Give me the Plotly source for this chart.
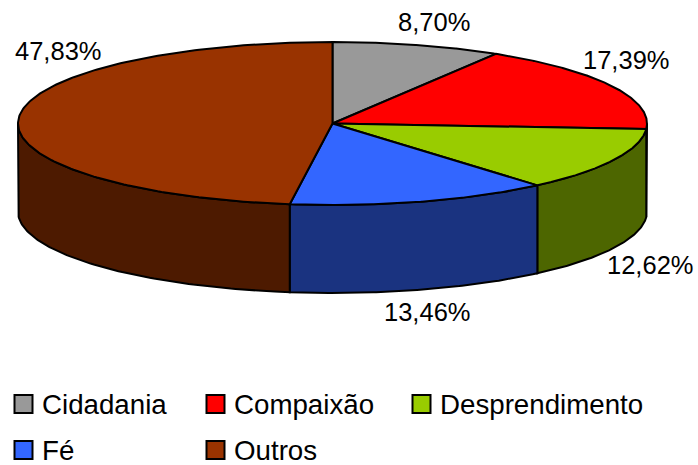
import numpy as np
import plotly.graph_objects as go

categories = ["Cidadania", "Compaixão", "Desprendimento", "Fé", "Outros"]
shares = [8.70, 17.39, 12.62, 13.46, 47.83]
labels = ["8,70%", "17,39%", "12,62%", "13,46%", "47,83%"]
top_colors = ["#999999", "#FF0000", "#99CC00", "#3366FF", "#993300"]
side_colors = ["#4D4D4D", "#800000", "#4D6600", "#1A3380", "#4D1A00"]

CX, CY, RX, RY, DEPTH = 332.5, 123.5, 314.5, 81.5, 88
label_pos = [(433.5, 22), (626, 60), (650, 265), (427, 312), (58, 51)]
legend_pos = [(23.5, 404), (215.5, 404), (421.5, 404), (23.5, 450), (215.5, 450)]
FONT = "Liberation Sans, Arial, sans-serif"


def pt(a, dy=0.0):
    return CX + RX * np.sin(a), CY - RY * np.cos(a) + dy


fig = go.Figure()
bounds = np.radians(np.concatenate([[0], np.cumsum(shares)]) * 3.6)
bounds[-1] = 2 * np.pi

# side walls: only the front half of the cylinder (90 to 270 degrees) shows
for i, c in enumerate(categories):
    a0 = max(bounds[i], np.pi / 2)
    a1 = min(bounds[i + 1], 3 * np.pi / 2)
    if a1 <= a0:
        continue
    t = np.linspace(a0, a1, 90)
    xt, yt = pt(t)
    xb, yb = pt(t[::-1], DEPTH)
    fig.add_trace(go.Scatter(
        x=np.r_[xt, xb, xt[0]], y=np.r_[yt, yb, yt[0]], mode="lines", fill="toself",
        fillcolor=side_colors[i], line=dict(color="black", width=2),
        hoverinfo="skip", showlegend=False))

# top faces
for i, c in enumerate(categories):
    t = np.linspace(bounds[i], bounds[i + 1], 200)
    xt, yt = pt(t)
    fig.add_trace(go.Scatter(
        x=np.r_[CX, xt, CX], y=np.r_[CY, yt, CY], mode="lines", fill="toself",
        fillcolor=top_colors[i], line=dict(color="black", width=2),
        name=c, showlegend=False))

# legend swatches and names
for i, c in enumerate(categories):
    lx, ly = legend_pos[i]
    fig.add_trace(go.Scatter(
        x=[lx], y=[ly], mode="markers",
        marker=dict(symbol="square", size=18, color=top_colors[i], line=dict(color="black", width=2)),
        hoverinfo="skip", showlegend=False))
    fig.add_annotation(x=lx + 16.5, y=ly, text=c, showarrow=False, xanchor="left", yanchor="middle",
                       xref="x", yref="y", font=dict(family=FONT, size=27.7, color="black"))

for (x, y), s in zip(label_pos, labels):
    fig.add_annotation(x=x, y=y, text=s, showarrow=False, xanchor="center", yanchor="middle",
                       xref="x", yref="y", font=dict(family=FONT, size=25.5, color="black"))

fig.update_layout(
    width=698, height=465, margin=dict(l=0, r=0, t=0, b=0),
    paper_bgcolor="white", plot_bgcolor="white", showlegend=False,
    xaxis=dict(range=[0, 698], visible=False, fixedrange=True),
    yaxis=dict(range=[465, 0], visible=False, fixedrange=True),
)
fig.write_html("out.html", config=dict(displayModeBar=False),
               post_script="document.body.style.margin='0';document.body.style.overflow='hidden';")
